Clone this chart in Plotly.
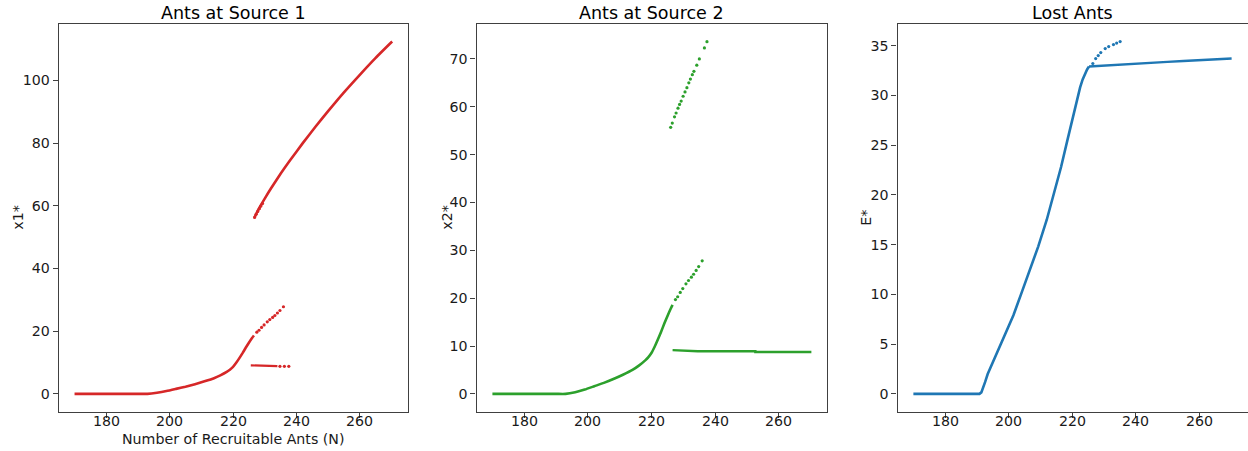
import plotly.graph_objects as go

# ---------------- data ----------------
# symmetric branch (x1* = x2*), dense part
N_sym = [170, 180, 190, 193, 196, 199, 202, 205, 208, 211, 214, 216, 218, 219, 220, 221,
         222, 223, 224, 225, 226, 226.6]
x_sym = [0, 0, 0, 0, 0.35, 0.9, 1.6, 2.3, 3.1, 4.0, 5.0, 5.9, 7.0, 7.7, 8.6, 9.9,
         11.4, 13.0, 14.7, 16.3, 17.8, 18.6]
# symmetric branch, sparse continuation
N_sym_s = [227.5, 228.2, 229.0, 229.8, 230.8, 231.6, 232.5, 233.2, 234.0, 234.8, 235.9]
x_sym_s = [19.7, 20.3, 21.2, 22.0, 23.0, 23.7, 24.4, 25.0, 25.8, 26.6, 27.8]

# asymmetric branch: large source (x1* in panel 1)
N_big = [226.8, 227.5, 228.5, 230, 232, 235, 238, 242, 246, 250, 255, 260, 265, 270.2]
x_big = [56.3, 57.8, 59.7, 62.3, 65.6, 70.2, 74.5, 80.0, 85.2, 90.2, 96.2, 101.8, 107.2, 112.4]
# asymmetric branch, sparse start of the big source
N_big_s = [226.8, 227.3, 227.8, 228.3, 228.8, 229.3]
x_big_s = [56.3, 57.3, 58.2, 59.1, 59.9, 60.7]

# asymmetric branch: small source (x2* in panel 2), stepped plateau
N_small = [226.6, 234.5, 234.5, 252.6, 252.6, 270.2]
x_small = [9.15, 9.05, 8.9, 8.9, 8.75, 8.75]

# mirrored asymmetric branch (short): x1* small in panel 1
N_mir_small = [225.6, 228, 230, 232, 234]
x_mir_small = [9.1, 9.0, 8.95, 8.9, 8.85]
N_mir_small_s = [234.8, 236.2, 237.6]
x_mir_small_s = [8.8, 8.8, 8.8]
# mirrored asymmetric branch: x2* large in panel 2 (sparse)
N_mir_big = [226.0, 226.5, 227.2, 227.7, 228.3, 228.8, 229.3, 229.9, 230.5, 231.1,
             231.7, 232.2, 232.8, 233.3, 234.2, 235.0, 236.6, 237.4]
x_mir_big = [55.7, 56.6, 57.9, 58.7, 59.7, 60.5, 61.2, 62.2, 63.1, 64.0,
             65.0, 65.8, 66.7, 67.4, 68.7, 70.0, 72.3, 73.6]

# lost ants E*
N_E = [170, 180, 190.8, 191.4, 192.0, 192.6, 193.4, 196, 198.7, 201.5, 204, 206.5, 209.3, 212,
       214.5, 216.5, 218.5, 220.5, 221.5, 222.5, 223.3, 224.0, 224.7, 225.3]
E_sym = [0, 0, 0, 0.15, 0.6, 1.2, 2.0, 3.9, 5.75, 7.9, 10.1, 12.3, 14.8, 17.5,
         20.3, 22.8, 25.5, 28.3, 29.6, 30.8, 31.6, 32.2, 32.6, 32.9]
N_E_s = [226.5, 227.4, 228.2, 229.0, 230.4, 231.5, 233.0, 234.0, 235.1]
E_sym_s = [33.2, 33.7, 34.0, 34.3, 34.7, 34.9, 35.1, 35.25, 35.4]
N_E_asym = [225.3, 230, 235, 240, 245, 250, 255, 260, 265, 270.2]
E_asym = [32.9, 33.0, 33.1, 33.2, 33.28, 33.36, 33.45, 33.53, 33.6, 33.7]

titles = ["Ants at Source 1", "Ants at Source 2", "Lost Ants"]
ylabels = ["x1*", "x2*", "E*"]
xlabel = "Number of Recruitable Ants (N)"
xticks = [180, 200, 220, 240, 260]
yticks1 = [0, 20, 40, 60, 80, 100]
yticks2 = [0, 10, 20, 30, 40, 50, 60, 70]
yticks3 = [0, 5, 10, 15, 20, 25, 30, 35]

RED, GREEN, BLUE = "#d62728", "#2ca02c", "#1f77b4"

# ---------------- figure ----------------
W, H = 1248, 451
fig = go.Figure()

def line(ax, xs, ys, color, width=2.6, smooth=True):
    ln = dict(color=color, width=width)
    if smooth:
        ln.update(shape="spline", smoothing=0.5)
    fig.add_trace(go.Scatter(x=xs, y=ys, mode="lines", line=ln,
                             xaxis="x" + ax, yaxis="y" + ax, showlegend=False, hoverinfo="skip"))

def dots(ax, xs, ys, color, size=3.2):
    fig.add_trace(go.Scatter(x=xs, y=ys, mode="markers", marker=dict(color=color, size=size),
                             xaxis="x" + ax, yaxis="y" + ax, showlegend=False, hoverinfo="skip"))

# panel 1
line("", N_sym, x_sym, RED)
dots("", N_sym_s, x_sym_s, RED)
line("", N_big, x_big, RED)
dots("", N_big_s, x_big_s, RED)
line("", N_mir_small, x_mir_small, RED, 2.2, False)
dots("", N_mir_small_s, x_mir_small_s, RED)
# panel 2
line("2", N_sym, x_sym, GREEN)
dots("2", N_sym_s, x_sym_s, GREEN)
line("2", N_small, x_small, GREEN, 2.4, False)
dots("2", N_mir_big, x_mir_big, GREEN)
# panel 3
line("3", N_E, E_sym, BLUE, 2.6, False)
dots("3", N_E_s, E_sym_s, BLUE)
line("3", N_E_asym, E_asym, BLUE, 2.4, False)

# pixel layout of plot areas (window coordinates of the reference)
left_px = [58.7, 476.5, 897.5]
right_px = [408.0, 827.3, 1247.5]
top_px, bot_px = 24.0, 411.5

def fx(px):
    return px / W

def fy(py):
    return (H - py) / H

ydom = [fy(bot_px), fy(top_px)]

font = dict(family="DejaVu Sans", size=14.2, color="#1a1a1a")
axis_common = dict(showline=True, mirror=True, linecolor="#404040", linewidth=1.1,
                   ticks="outside", ticklen=5, tickwidth=1, tickcolor="#404040",
                   showgrid=False, zeroline=False, tickfont=font, automargin=False)

yranges = [[-5.62, 118.0], [-3.68, 77.3], [-1.77, 37.17]]
yticks = [yticks1, yticks2, yticks3]
ylabel_x = [18, 447, 866]
for i in range(3):
    sfx = "" if i == 0 else str(i + 1)
    xa = dict(axis_common, domain=[fx(left_px[i]), fx(right_px[i])], range=[165, 275.2],
              tickvals=xticks, showticklabels=False, anchor="y" + sfx)
    ya = dict(axis_common, domain=ydom, range=yranges[i], tickvals=yticks[i],
              anchor="x" + sfx)
    fig.layout["xaxis" + sfx] = xa
    fig.layout["yaxis" + sfx] = ya
    # x tick labels placed at the tick positions (data x, pixel y)
    for t in xticks:
        fig.add_annotation(text=str(t), x=t, xref="x" + sfx, y=fy(421), yref="paper",
                           showarrow=False, xanchor="center", yanchor="middle", font=font)
    fig.add_annotation(text=titles[i], x=fx((left_px[i] + right_px[i]) / 2), y=fy(13),
                       xref="paper", yref="paper", showarrow=False, xanchor="center",
                       yanchor="middle", font=dict(family="DejaVu Sans", size=17.5, color="#000"))
    fig.add_annotation(text=ylabels[i], x=fx(ylabel_x[i]), y=fy((top_px + bot_px) / 2),
                       xref="paper", yref="paper", showarrow=False, xanchor="center",
                       yanchor="middle", textangle=-90, font=font)

fig.add_annotation(text=xlabel, x=fx((left_px[0] + right_px[0]) / 2), y=fy(439),
                   xref="paper", yref="paper", showarrow=False, xanchor="center",
                   yanchor="middle", font=font)

fig.update_layout(width=W, height=H, margin=dict(l=0, r=0, t=0, b=0, autoexpand=False),
                  paper_bgcolor="white", plot_bgcolor="white", font=font)

fig.write_html("out.html", config={"displayModeBar": False},
               post_script="document.body.style.margin='0';document.body.style.overflow='hidden';")
